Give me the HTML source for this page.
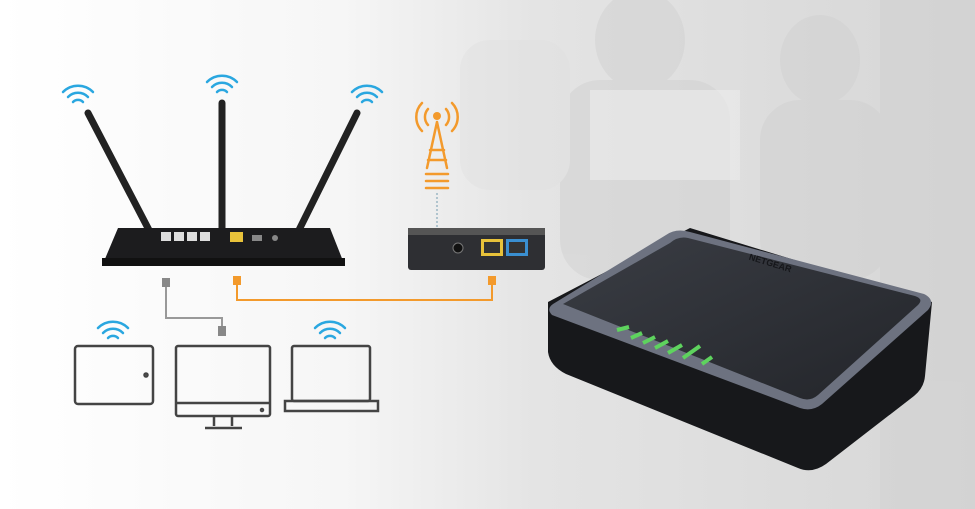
<!DOCTYPE html>
<html><head><style>
html,body{margin:0;padding:0;width:975px;height:509px;overflow:hidden;background:#fff}
</style></head><body>
<svg width="975" height="509" viewBox="0 0 975 509" xmlns="http://www.w3.org/2000/svg">
<defs>
<linearGradient id="bg" x1="0" x2="1" y1="0" y2="0">
<stop offset="0" stop-color="#ffffff"/><stop offset="0.35" stop-color="#f6f6f6"/><stop offset="0.55" stop-color="#e4e4e4"/><stop offset="1" stop-color="#d6d6d6"/>
</linearGradient>
<linearGradient id="top" x1="0" y1="0" x2="1" y2="1">
<stop offset="0" stop-color="#3a3d44"/><stop offset="1" stop-color="#23252a"/>
</linearGradient>
</defs>
<rect width="975" height="509" fill="url(#bg)"/>
<g fill="#cfcfcf" opacity="0.45">
<ellipse cx="640" cy="40" rx="45" ry="50"/><rect x="560" y="80" width="170" height="200" rx="40"/>
<ellipse cx="820" cy="60" rx="40" ry="45"/><rect x="760" y="100" width="130" height="180" rx="40"/>
<rect x="460" y="40" width="110" height="150" rx="30" fill="#e0e0e0"/>
<rect x="880" y="0" width="95" height="509" fill="#d0d0d0"/>
</g>
<rect x="590" y="90" width="150" height="90" fill="#ececec" opacity="0.6"/>
<g fill="none" stroke="#2aa7e0" stroke-width="2.5" stroke-linecap="round">
<g transform="translate(78,102)"><path d="M-5,0 a7,7 0 0 1 10,0"/><path d="M-10,-5 a14,14 0 0 1 20,0"/><path d="M-15,-10 a21,21 0 0 1 30,0"/></g>
<g transform="translate(222,92)"><path d="M-5,0 a7,7 0 0 1 10,0"/><path d="M-10,-5 a14,14 0 0 1 20,0"/><path d="M-15,-10 a21,21 0 0 1 30,0"/></g>
<g transform="translate(367,102)"><path d="M-5,0 a7,7 0 0 1 10,0"/><path d="M-10,-5 a14,14 0 0 1 20,0"/><path d="M-15,-10 a21,21 0 0 1 30,0"/></g>
<g transform="translate(113,338)"><path d="M-5,0 a7,7 0 0 1 10,0"/><path d="M-10,-5 a14,14 0 0 1 20,0"/><path d="M-15,-10 a21,21 0 0 1 30,0"/></g>
<g transform="translate(330,338)"><path d="M-5,0 a7,7 0 0 1 10,0"/><path d="M-10,-5 a14,14 0 0 1 20,0"/><path d="M-15,-10 a21,21 0 0 1 30,0"/></g>
</g>
<g stroke="#222" stroke-width="7" stroke-linecap="round">
<line x1="150" y1="232" x2="88" y2="113"/>
<line x1="222" y1="232" x2="222" y2="103"/>
<line x1="298" y1="232" x2="357" y2="113"/>
</g>
<path d="M118,228 L330,228 L345,266 L102,266 Z" fill="#1c1c1e"/>
<rect x="102" y="258" width="243" height="8" fill="#111"/>
<g fill="#ddd"><rect x="161" y="232" width="10" height="9"/><rect x="174" y="232" width="10" height="9"/><rect x="187" y="232" width="10" height="9"/><rect x="200" y="232" width="10" height="9"/></g>
<rect x="230" y="232" width="13" height="10" fill="#e8c23a"/>
<rect x="252" y="235" width="10" height="6" fill="#888"/><circle cx="275" cy="238" r="3" fill="#888"/>
<g stroke="#f39a2c" stroke-width="2.5" fill="none" stroke-linecap="round">
<path d="M437,122 L427,168 M437,122 L447,168 M430,150 L444,150 M428,160 L446,160"/>
<path d="M428,109 a12,12 0 0 0 0,16 M446,109 a12,12 0 0 1 0,16 M422,103 a20,20 0 0 0 0,28 M452,103 a20,20 0 0 1 0,28"/>
<path d="M426,174 h22 M426,181 h22 M426,188 h22"/>
</g>
<circle cx="437" cy="116" r="4" fill="#f39a2c"/>
<line x1="437" y1="193" x2="437" y2="228" stroke="#8ab" stroke-width="1.2" stroke-dasharray="2,2"/>
<rect x="408" y="228" width="137" height="42" rx="3" fill="#2e2f33"/>
<rect x="408" y="228" width="137" height="7" fill="#555"/>
<rect x="481" y="239" width="22" height="17" fill="#e8c23a"/><rect x="484" y="242" width="16" height="11" fill="#333"/>
<rect x="506" y="239" width="22" height="17" fill="#3a8fd0"/><rect x="509" y="242" width="16" height="11" fill="#333"/>
<circle cx="458" cy="248" r="5" fill="#111" stroke="#777"/>
<path d="M237,282 V300 H492 V282" fill="none" stroke="#f39a2c" stroke-width="2"/>
<rect x="233" y="276" width="8" height="9" fill="#f39a2c"/><rect x="488" y="276" width="8" height="9" fill="#f39a2c"/>
<path d="M166,284 V318 H222 V332" fill="none" stroke="#999" stroke-width="2"/>
<rect x="162" y="278" width="8" height="9" fill="#888"/><rect x="218" y="326" width="8" height="10" fill="#888"/>
<g fill="none" stroke="#444" stroke-width="2.5">
<rect x="75" y="346" width="78" height="58" rx="3"/><circle cx="146" cy="375" r="1.5"/>
<rect x="176" y="346" width="94" height="70" rx="2"/><line x1="176" y1="403" x2="270" y2="403"/>
<path d="M214,416 V426 M232,416 V426 M205,428 H242"/><circle cx="262" cy="410" r="1"/>
<rect x="292" y="346" width="78" height="55" rx="2"/><path d="M285,401 H378 V411 H285 Z"/>
</g>
<!-- netgear large -->
<path d="M548,302 L548,352 Q550,366 566,374 L798,468 Q812,474 826,464 L914,396 Q924,388 925,376 L932,302 L690,228 Z" fill="#17181b"/>
<path d="M553,304 Q546,309 552,315 L800,408 Q812,412 822,404 L928,310 Q936,300 924,294 L690,232 Q676,228 666,235 Z" fill="#6d7280"/>
<path d="M563,304 L800,398 Q810,402 818,395 L918,305 Q924,299 915,296 L688,238 Q678,236 670,243 Z" fill="url(#top)"/>
<text x="745" y="268" font-family="Liberation Sans, sans-serif" font-size="9" font-weight="bold" fill="#15161a" transform="rotate(17 775 275)">NETGEAR</text>
<g stroke="#5ed35e" stroke-width="4" stroke-linecap="butt">
<line x1="617" y1="330" x2="629" y2="327"/><line x1="631" y1="338" x2="642" y2="333"/><line x1="643" y1="343" x2="655" y2="337"/><line x1="655" y1="348" x2="668" y2="341"/><line x1="668" y1="353" x2="682" y2="345"/><line x1="683" y1="358" x2="700" y2="346"/><line x1="702" y1="364" x2="712" y2="357"/>
</g>
</svg>
</body></html>
